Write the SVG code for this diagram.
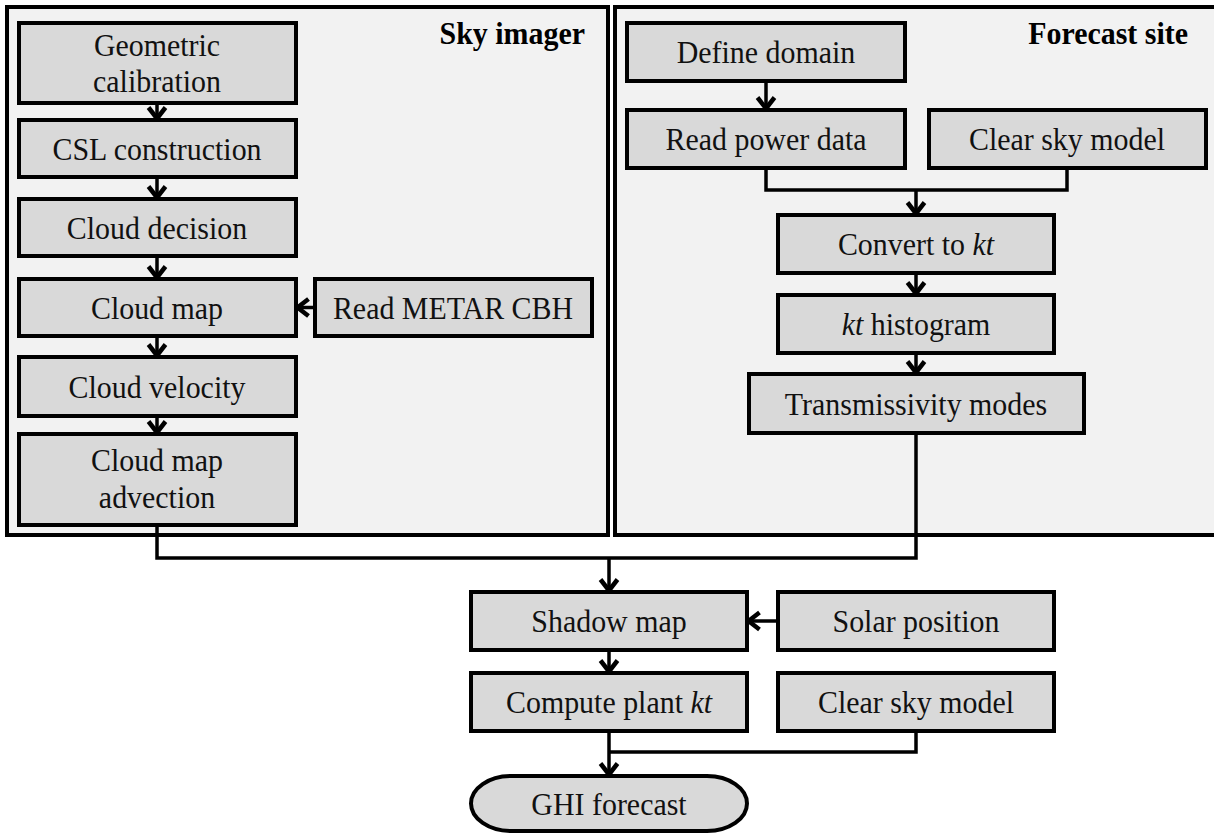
<svg xmlns="http://www.w3.org/2000/svg" width="1214" height="833" viewBox="0 0 1214 833">
<defs>
<style>
.panel{fill:#f2f2f2;stroke:#000;stroke-width:4}
.box{fill:#d9d9d9;stroke:#000;stroke-width:4}
.t{font-family:"Liberation Serif","Times New Roman",serif;font-size:32px;fill:#111;text-anchor:middle}
.title{font-family:"Liberation Serif","Times New Roman",serif;font-size:32px;font-weight:bold;fill:#000;text-anchor:end}
.c{fill:none;stroke:#000;stroke-width:3.5}
.i{font-style:italic}
</style>
<marker id="ah" markerUnits="userSpaceOnUse" markerWidth="22" markerHeight="22" viewBox="0 0 22 22" refX="16.5" refY="11" orient="auto">
<path d="M4,2.5 L15,11 L4,19.5" fill="none" stroke="#000" stroke-width="4.5"/>
</marker>
</defs>
<rect id="bg" x="0" y="0" width="1214" height="833" fill="#fff"/>
<g id="panel-sky">
<rect class="panel" x="7" y="7" width="601" height="528"/>
<text class="title" transform="translate(585 0) scale(.935 1)" x="0" y="44">Sky imager</text>
</g>
<g id="panel-site">
<rect class="panel" x="615" y="7" width="610" height="528"/>
<text class="title" transform="translate(1188 0) scale(.935 1)" x="0" y="44">Forecast site</text>
</g>
<g id="connectors">
<line class="c" x1="157" y1="103" x2="157" y2="120" marker-end="url(#ah)"/>
<line class="c" x1="157" y1="177" x2="157" y2="199" marker-end="url(#ah)"/>
<line class="c" x1="157" y1="256" x2="157" y2="279" marker-end="url(#ah)"/>
<line class="c" x1="157" y1="336" x2="157" y2="357" marker-end="url(#ah)"/>
<line class="c" x1="157" y1="416" x2="157" y2="434" marker-end="url(#ah)"/>
<line class="c" x1="315" y1="307.5" x2="296" y2="307.5" marker-end="url(#ah)"/>
<line class="c" x1="766" y1="81" x2="766" y2="110" marker-end="url(#ah)"/>
<polyline class="c" points="766,168 766,190 1067,190 1067,168"/>
<line class="c" x1="916" y1="190" x2="916" y2="215" marker-end="url(#ah)"/>
<line class="c" x1="916" y1="273" x2="916" y2="295" marker-end="url(#ah)"/>
<line class="c" x1="916" y1="353" x2="916" y2="374" marker-end="url(#ah)"/>
<polyline class="c" points="916,433 916,558 157,558 157,525"/>
<line class="c" x1="609" y1="558" x2="609" y2="592" marker-end="url(#ah)"/>
<line class="c" x1="778" y1="621" x2="747" y2="621" marker-end="url(#ah)"/>
<line class="c" x1="609" y1="650" x2="609" y2="673" marker-end="url(#ah)"/>
<polyline class="c" points="916,731 916,752 609,752"/>
<line class="c" x1="609" y1="731" x2="609" y2="776" marker-end="url(#ah)"/>
</g>
<g id="geometric-calibration">
<rect class="box" x="19" y="23" width="277" height="80"/>
<text class="t" transform="translate(157 0) scale(.935 1)" x="0" y="56">Geometric</text>
<text class="t" transform="translate(157 0) scale(.935 1)" x="0" y="92">calibration</text>
</g>
<g id="csl-construction">
<rect class="box" x="19" y="120" width="277" height="57"/>
<text class="t" transform="translate(157 0) scale(.935 1)" x="0" y="160">CSL construction</text>
</g>
<g id="cloud-decision">
<rect class="box" x="19" y="199" width="277" height="57"/>
<text class="t" transform="translate(157 0) scale(.935 1)" x="0" y="239">Cloud decision</text>
</g>
<g id="cloud-map">
<rect class="box" x="19" y="279" width="277" height="57"/>
<text class="t" transform="translate(157 0) scale(.935 1)" x="0" y="319">Cloud map</text>
</g>
<g id="read-metar">
<rect class="box" x="315" y="279" width="277" height="57"/>
<text class="t" transform="translate(453 0) scale(.935 1)" x="0" y="319">Read METAR CBH</text>
</g>
<g id="cloud-velocity">
<rect class="box" x="19" y="357" width="277" height="59"/>
<text class="t" transform="translate(157 0) scale(.935 1)" x="0" y="398">Cloud velocity</text>
</g>
<g id="cloud-map-advection">
<rect class="box" x="19" y="434" width="277" height="91"/>
<text class="t" transform="translate(157 0) scale(.935 1)" x="0" y="471">Cloud map</text>
<text class="t" transform="translate(157 0) scale(.935 1)" x="0" y="508">advection</text>
</g>
<g id="define-domain">
<rect class="box" x="627" y="23" width="278" height="58"/>
<text class="t" transform="translate(766 0) scale(.935 1)" x="0" y="63">Define domain</text>
</g>
<g id="read-power-data">
<rect class="box" x="627" y="110" width="278" height="58"/>
<text class="t" transform="translate(766 0) scale(.935 1)" x="0" y="150">Read power data</text>
</g>
<g id="clear-sky-1">
<rect class="box" x="929" y="110" width="277" height="58"/>
<text class="t" transform="translate(1067 0) scale(.935 1)" x="0" y="150">Clear sky model</text>
</g>
<g id="convert-kt">
<rect class="box" x="778" y="215" width="276" height="58"/>
<text class="t" transform="translate(916 0) scale(.935 1)" x="0" y="255">Convert to <tspan class="i">kt</tspan></text>
</g>
<g id="kt-histogram">
<rect class="box" x="778" y="295" width="276" height="58"/>
<text class="t" transform="translate(916 0) scale(.935 1)" x="0" y="335"><tspan class="i">kt</tspan> histogram</text>
</g>
<g id="transmissivity-modes">
<rect class="box" x="749" y="374" width="335" height="59"/>
<text class="t" transform="translate(916 0) scale(.935 1)" x="0" y="415">Transmissivity modes</text>
</g>
<g id="shadow-map">
<rect class="box" x="471" y="592" width="276" height="58"/>
<text class="t" transform="translate(609 0) scale(.935 1)" x="0" y="632">Shadow map</text>
</g>
<g id="solar-position">
<rect class="box" x="778" y="592" width="276" height="58"/>
<text class="t" transform="translate(916 0) scale(.935 1)" x="0" y="632">Solar position</text>
</g>
<g id="compute-plant-kt">
<rect class="box" x="471" y="673" width="276" height="58"/>
<text class="t" transform="translate(609 0) scale(.935 1)" x="0" y="713">Compute plant <tspan class="i">kt</tspan></text>
</g>
<g id="clear-sky-2">
<rect class="box" x="778" y="673" width="276" height="58"/>
<text class="t" transform="translate(916 0) scale(.935 1)" x="0" y="713">Clear sky model</text>
</g>
<g id="ghi-forecast">
<rect class="box" x="471" y="776" width="276" height="55" rx="40" ry="27.5"/>
<text class="t" transform="translate(609 0) scale(.935 1)" x="0" y="815">GHI forecast</text>
</g>
</svg>
